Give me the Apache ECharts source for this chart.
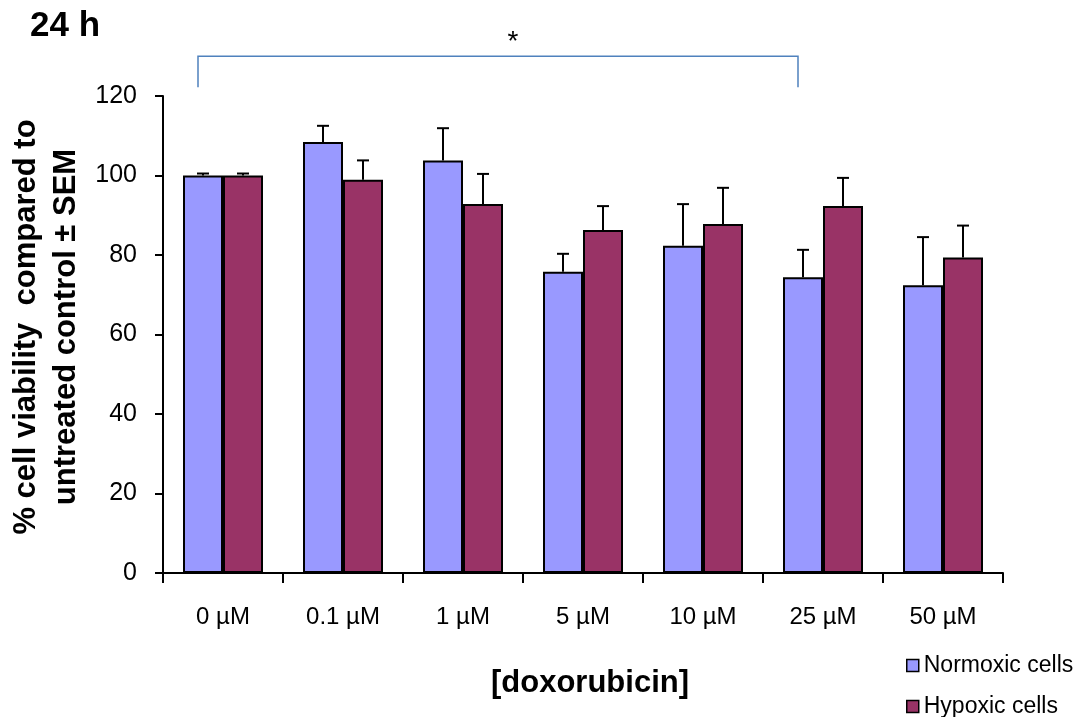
<!DOCTYPE html>
<html>
<head>
<meta charset="utf-8">
<script src="https://cdn.jsdelivr.net/npm/echarts@6/dist/echarts.min.js"></script>
<style>
  html, body { margin: 0; padding: 0; background: #ffffff; }
  #chart { width: 1087px; height: 717px; }
</style>
</head>
<body>
<div id="chart"></div>
<script>
// Doxorubicin concentrations on the category axis
const categories = ['0 µM', '0.1 µM', '1 µM', '5 µM', '10 µM', '25 µM', '50 µM'];

// Mean % viability and SEM for each cell condition
const normoxic    = [100, 108.4, 103.8, 75.8, 82.3, 74.4, 72.4];
const normoxicSem = [0.5, 4.1, 8.1, 4.5, 10.5, 6.9, 12.1];
const hypoxic     = [100, 98.9, 92.8, 86.3, 87.8, 92.3, 79.4];
const hypoxicSem  = [0.5, 4.9, 7.6, 6.0, 9.1, 7.1, 8.0];

// Value axis ticks
const yMin = 0;
const yMax = 120;
const yStep = 20;

// Significance bracket between two concentrations
const bracketFrom = '0 µM';
const bracketTo = '25 µM';
const bracketTop = 130;
const bracketFoot = 122.2;
const bracketMark = '*';

const seriesNames = ['Normoxic cells', 'Hypoxic cells'];
const colors = ['#9999ff', '#993366'];

const BAR_W = 40;
const FONT = 'Liberation Sans, Arial, Helvetica, sans-serif';

// Upward-only SEM whisker drawn on top of each bar
function errorSeries(values, sems, side) {
  return {
    type: 'custom',
    silent: true,
    clip: false,
    z: 5,
    encode: { x: 0, y: 1 },
    data: values.map((v, i) => [i, v, sems[i]]),
    renderItem: function (params, api) {
      const base = api.coord([api.value(0), api.value(1)]);
      const tip = api.coord([api.value(0), api.value(1) + api.value(2)]);
      const x = base[0] + side * BAR_W / 2;
      const st = { stroke: '#000', lineWidth: 2 };
      return {
        type: 'group',
        children: [
          { type: 'line', shape: { x1: x, y1: base[1], x2: x, y2: tip[1] }, style: st },
          { type: 'line', shape: { x1: x - 6, y1: tip[1], x2: x + 6, y2: tip[1] }, style: st }
        ]
      };
    }
  };
}

// One legend block per series, stacked in the lower right corner
function legendFor(name, top) {
  return {
    data: [name],
    orient: 'vertical',
    left: 901,
    top: top,
    itemWidth: 12,
    itemHeight: 12,
    icon: 'rect',
    selectedMode: false,
    itemStyle: { borderColor: '#000', borderWidth: 1.5 },
    textStyle: { fontFamily: FONT, fontSize: 23, color: '#000' }
  };
}

const chart = echarts.init(document.getElementById('chart'), null, { renderer: 'canvas' });

chart.setOption({
  animation: false,
  backgroundColor: '#ffffff',
  grid: { left: 163, top: 96, width: 840, bottom: 144, containLabel: false },
  legend: [legendFor(seriesNames[0], 649), legendFor(seriesNames[1], 690)],
  xAxis: {
    type: 'category',
    data: categories,
    axisLine: { lineStyle: { color: '#000', width: 2 } },
    axisTick: { show: true, length: 10, alignWithLabel: false, lineStyle: { color: '#000', width: 2 } },
    axisLabel: { fontFamily: FONT, fontSize: 24, color: '#000', margin: 32, interval: 0 },
    splitLine: { show: false }
  },
  yAxis: {
    type: 'value',
    min: yMin,
    max: yMax,
    interval: yStep,
    axisLine: { show: true, lineStyle: { color: '#000', width: 2 } },
    axisTick: { show: true, length: 8, lineStyle: { color: '#000', width: 2 } },
    axisLabel: { fontFamily: FONT, fontSize: 25, color: '#000', margin: 26 },
    splitLine: { show: false }
  },
  series: [
    {
      name: seriesNames[0],
      type: 'bar',
      data: normoxic,
      barWidth: BAR_W,
      barGap: '0%',
      itemStyle: { color: colors[0], borderColor: '#000', borderWidth: 2 }
    },
    {
      name: seriesNames[1],
      type: 'bar',
      data: hypoxic,
      barWidth: BAR_W,
      barGap: '0%',
      itemStyle: { color: colors[1], borderColor: '#000', borderWidth: 2 }
    },
    errorSeries(normoxic, normoxicSem, -1),
    errorSeries(hypoxic, hypoxicSem, 1),
    {
      // significance bracket with its marker
      type: 'custom',
      silent: true,
      clip: false,
      z: 6,
      encode: { x: 0, y: 2 },
      data: [[categories.indexOf(bracketFrom), categories.indexOf(bracketTo), bracketTop, bracketFoot]],
      renderItem: function (params, api) {
        const a = api.coord([api.value(0), api.value(2)]);
        const b = api.coord([api.value(1), api.value(2)]);
        const foot = api.coord([api.value(0), api.value(3)])[1];
        const x1 = a[0] - 25, x2 = b[0] - 25, y = a[1];
        const st = { stroke: '#4f81bd', lineWidth: 1.5, fill: null };
        return {
          type: 'group',
          children: [
            { type: 'polyline', shape: { points: [[x1, foot], [x1, y], [x2, y], [x2, foot]] }, style: st },
            {
              type: 'text',
              x: (x1 + x2) / 2 + 15,
              y: y - 14,
              style: { text: bracketMark, font: '28px ' + FONT, fill: '#000', align: 'center', verticalAlign: 'middle' }
            }
          ]
        };
      }
    }
  ],
  graphic: [
    {
      type: 'text',
      x: 30, y: 26,
      style: { text: '24 h', font: 'bold 35px ' + FONT, fill: '#000', verticalAlign: 'middle' }
    },
    {
      type: 'text',
      x: 26, y: 327,
      rotation: Math.PI / 2,
      style: { text: '% cell viability  compared to', font: 'bold 31px ' + FONT, fill: '#000', align: 'center', verticalAlign: 'middle' }
    },
    {
      type: 'text',
      x: 66, y: 327,
      rotation: Math.PI / 2,
      style: { text: 'untreated control ± SEM', font: 'bold 31px ' + FONT, fill: '#000', align: 'center', verticalAlign: 'middle' }
    },
    {
      type: 'text',
      x: 590, y: 683,
      style: { text: '[doxorubicin]', font: 'bold 31px ' + FONT, fill: '#000', align: 'center', verticalAlign: 'middle' }
    }
  ]
});
</script>
</body>
</html>
